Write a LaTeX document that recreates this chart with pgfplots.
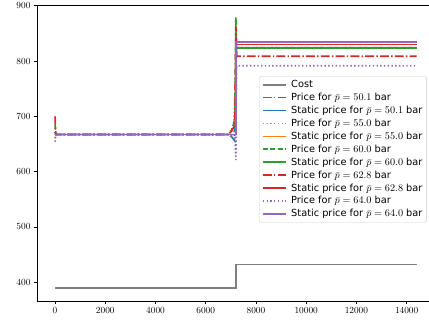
\documentclass[border=0pt]{standalone}
\usepackage{fontspec}
\newfontfamily\legfont{DejaVu Sans}
\usepackage{pgfplots}
\pgfplotsset{compat=1.18}
\definecolor{tblue}{HTML}{1F77B4}
\definecolor{torange}{HTML}{FF7F0E}
\definecolor{tgreen}{HTML}{2CA02C}
\definecolor{tred}{HTML}{D62728}
\definecolor{tpurple}{HTML}{9467BD}
\definecolor{tgray}{HTML}{7F7F7F}
\begin{document}
\begin{tikzpicture}
\path[use as bounding box] (0,0) rectangle (460.8pt,347pt);
\begin{axis}[
  at={(39.7pt,23.7pt)}, anchor=south west,
  scale only axis, width=427.3pt, height=317.9pt,
  xmin=-720, xmax=15120, ymin=366, ymax=901.3,
  xtick={0,2000,...,14000}, ytick={400,500,...,900},
  scaled x ticks=false,
  xticklabel style={/pgf/number format/.cd, fixed, set thousands separator={}},
  tick align=outside, xtick pos=left, ytick pos=left,
  major tick length=3.5pt,
  every tick/.style={black, line width=0.8pt},
  axis line style={line width=0.8pt},
  legend style={at={(0.980,0.760)}, anchor=north east, draw=black!20, rounded corners=2pt,
    fill=white, fill opacity=0.8, text opacity=1, font=\legfont\fontsize{10.5}{12.6}\selectfont, row sep=1.4pt,
    inner xsep=3pt, inner ysep=3pt, nodes={inner sep=1.5pt},
    /tikz/every odd column/.append style={column sep=3pt}},
  legend cell align=left,
  legend image code/.code={\draw[#1, line width=1.8pt] (0pt,0pt) -- (25pt,0pt);},
]
\addplot[tgray, line width=1.8pt] coordinates {(0,389) (7200,389) (7200,432) (14400,432)};
\addlegendentry{Cost}
\addplot[tblue, line width=1.8pt, dash pattern=on 9.6pt off 2.4pt on 1.5pt off 2.4pt] coordinates {(0,672) (30,667) (6900,667) (7050,662) (7150,656) (7200,760) (7230,824) (14400,824)};
\addlegendentry{Price for $\bar{p} = 50.1$ bar}
\addplot[tblue, line width=1.8pt] coordinates {(0,667) (7200,667) (7200,824) (14400,824)};
\addlegendentry{Static price for $\bar{p} = 50.1$ bar}
\addplot[torange, line width=1.8pt, dash pattern=on 1.5pt off 2.5pt] coordinates {(0,660) (30,667) (6900,667) (7100,664) (7200,780) (7230,824) (14400,824)};
\addlegendentry{Price for $\bar{p} = 55.0$ bar}
\addplot[torange, line width=1.8pt] coordinates {(0,667) (7200,667) (7200,824) (14400,824)};
\addlegendentry{Static price for $\bar{p} = 55.0$ bar}
\addplot[tgreen, line width=1.8pt, dash pattern=on 5.55pt off 2.4pt] coordinates {(0,685) (30,667) (6900,667) (7000,672) (7100,685) (7160,700) (7200,879) (7230,824) (14400,824)};
\addlegendentry{Price for $\bar{p} = 60.0$ bar}
\addplot[tgreen, line width=1.8pt] coordinates {(0,667) (7200,667) (7200,824) (14400,824)};
\addlegendentry{Static price for $\bar{p} = 60.0$ bar}
\addplot[tred, line width=1.8pt, dash pattern=on 9.6pt off 2.4pt on 1.5pt off 2.4pt] coordinates {(0,700) (30,667) (6900,667) (7050,675) (7160,684) (7200,862) (7230,808.5) (14400,808.5)};
\addlegendentry{Price for $\bar{p} = 62.8$ bar}
\addplot[tred, line width=1.8pt] coordinates {(0,667) (7200,667) (7200,830) (14400,830)};
\addlegendentry{Static price for $\bar{p} = 62.8$ bar}
\addplot[tpurple, line width=1.8pt, dash pattern=on 1.5pt off 2.5pt] coordinates {(0,654) (30,667) (6950,667) (7100,662) (7170,658) (7200,621) (7230,791.5) (14400,791.5)};
\addlegendentry{Price for $\bar{p} = 64.0$ bar}
\addplot[tpurple, line width=1.8pt] coordinates {(0,667) (7200,667) (7200,834) (14400,834)};
\addlegendentry{Static price for $\bar{p} = 64.0$ bar}
\end{axis}
\end{tikzpicture}
\end{document}
